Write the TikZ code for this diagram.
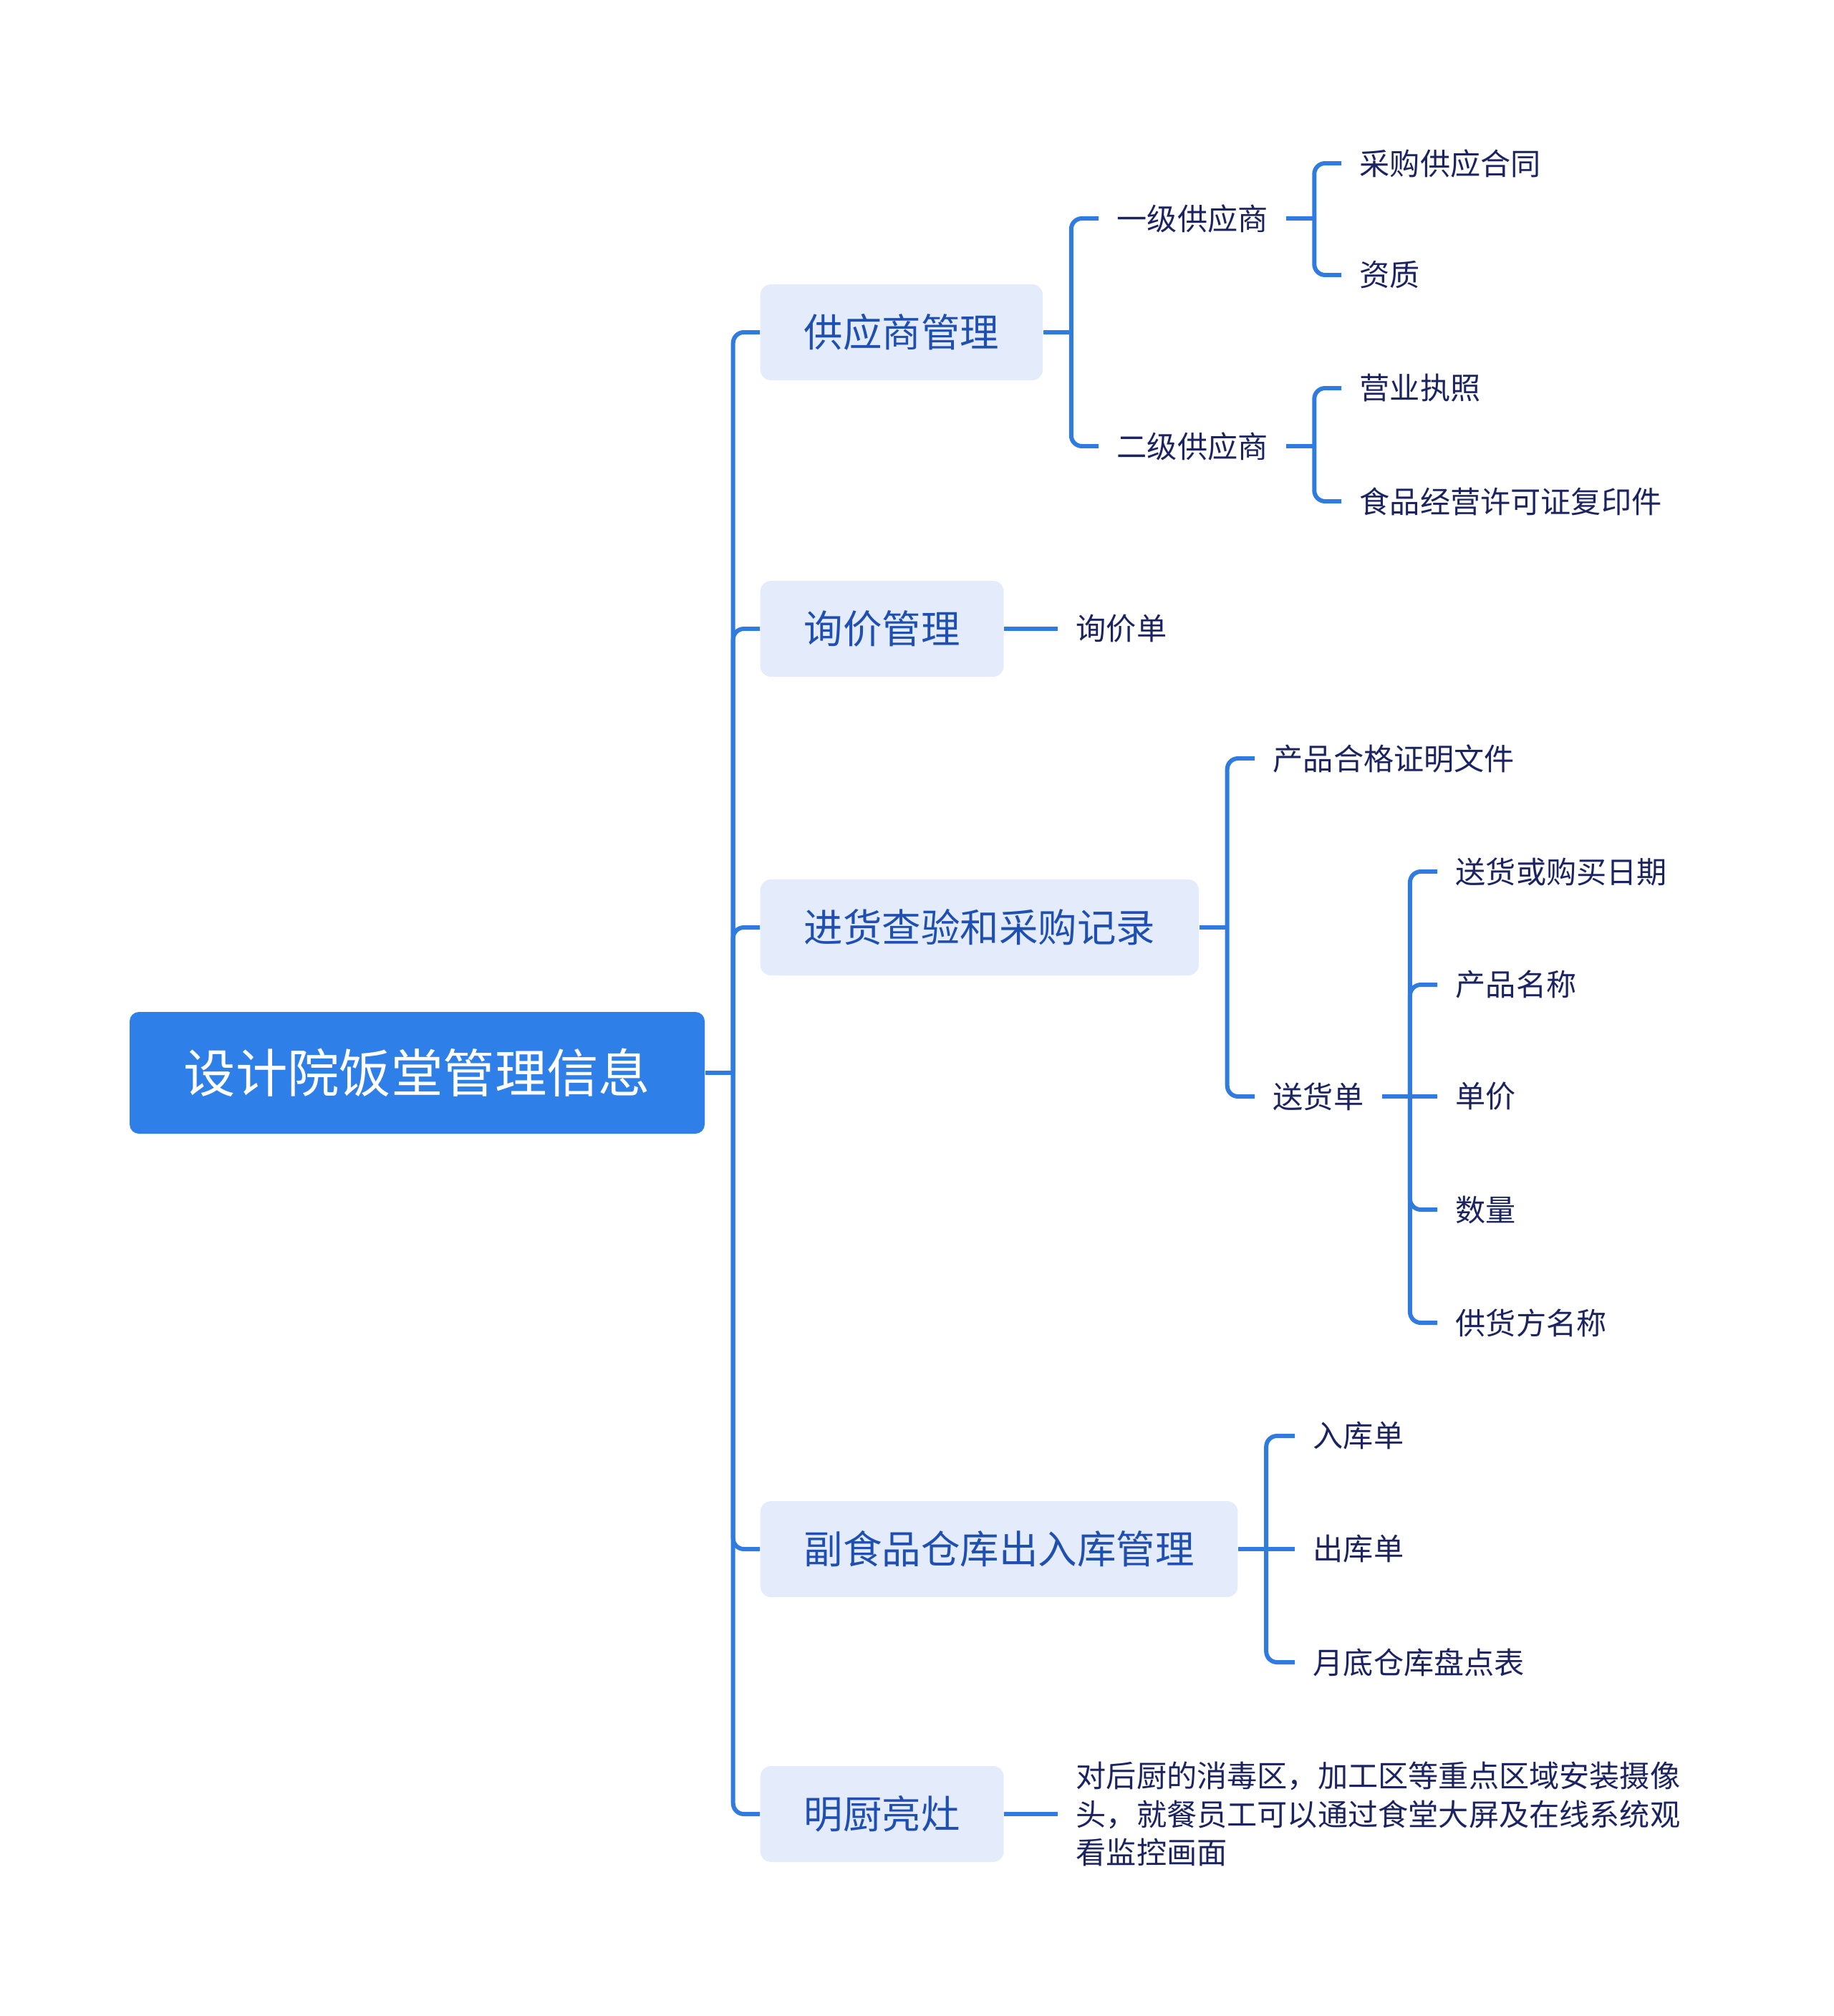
\documentclass[tikz,border=0pt]{standalone}
\usepackage{fontspec}
\usepackage{xcolor}
\usepackage{tikz}
\newfontfamily\cjk{Noto Sans CJK SC}
\definecolor{mapRoot}{HTML}{2F7FE8}
\definecolor{mapLine}{HTML}{2F7BE0}
\definecolor{mapTopic}{HTML}{E4ECFC}
\definecolor{mapTopicText}{HTML}{1F4FB0}
\definecolor{mapLeafText}{HTML}{1B2460}

\begin{document}
\begin{tikzpicture}[
  font=\cjk,
  rootbox/.style={rounded corners=0.13cm, fill=mapRoot, text=white,
                  minimum width=8.03cm, minimum height=1.70cm,
                  font=\cjk\fontsize{20.6pt}{24pt}\selectfont},
  topic/.style={rounded corners=0.15cm, fill=mapTopic, text=mapTopicText,
                inner xsep=0.61cm, minimum height=1.34cm, anchor=west,
                font=\cjk\fontsize{15.5pt}{18pt}\selectfont},
  leaf/.style={text=mapLeafText, inner xsep=0.25cm, inner ysep=2pt,
               anchor=west, align=left,
               font=\cjk\fontsize{12pt}{15.3pt}\selectfont},
  branch/.style={draw=mapLine, line width=1.7pt, rounded corners=0.15cm}
]
\useasboundingbox (0,0) rectangle (25.6,-28.15);

\node[rootbox] (main) at (5.825,-14.98) {设计院饭堂管理信息};

\node[topic] (sup) at (10.61,-4.64)  {供应商管理};
\node[topic] (inq) at (10.61,-8.78)  {询价管理};
\node[topic] (chk) at (10.61,-12.95) {进货查验和采购记录};
\node[topic] (wh)  at (10.61,-21.63) {副食品仓库出入库管理};
\node[topic] (kit) at (10.61,-25.33) {明厨亮灶};

% supplier
\node[leaf] (s1)  at (15.34,-3.05) {一级供应商};
\node[leaf] (s2)  at (15.34,-6.23) {二级供应商};
\node[leaf] (s11) at (18.73,-2.28) {采购供应合同};
\node[leaf] (s12) at (18.73,-3.84) {资质};
\node[leaf] (s21) at (18.73,-5.42) {营业执照};
\node[leaf] (s22) at (18.73,-7.00) {食品经营许可证复印件};

% inquiry
\node[leaf] (q1) at (14.77,-8.78) {询价单};

% inspection
\node[leaf] (c1) at (17.52,-10.59) {产品合格证明文件};
\node[leaf] (c2) at (17.52,-15.31) {送货单};
\node[leaf] (d1) at (20.07,-12.17) {送货或购买日期};
\node[leaf] (d2) at (20.07,-13.75) {产品名称};
\node[leaf] (d3) at (20.07,-15.31) {单价};
\node[leaf] (d4) at (20.07,-16.89) {数量};
\node[leaf] (d5) at (20.07,-18.47) {供货方名称};

% warehouse
\node[leaf] (w1) at (18.08,-20.05) {入库单};
\node[leaf] (w2) at (18.08,-21.63) {出库单};
\node[leaf] (w3) at (18.08,-23.21) {月底仓库盘点表};

% kitchen
\node[leaf] (k1) at (14.77,-25.33) {对后厨的消毒区，加工区等重点区域安装摄像\\
  头，就餐员工可以通过食堂大屏及在线系统观\\
  看监控画面};

\draw[branch] (main.east) -- ++(0.39,0) coordinate (jmain);
\foreach \c in {sup, inq, chk, wh, kit}
  \draw[branch] (jmain) |- (\c.west);

\draw[branch] (sup.east) -- ++(0.39,0) coordinate (jsup);
\foreach \c in {s1, s2}
  \draw[branch] (jsup) |- (\c.west);
\draw[branch] (s1.east) -- ++(0.39,0) coordinate (js1);
\foreach \c in {s11, s12}
  \draw[branch] (js1) |- (\c.west);
\draw[branch] (s2.east) -- ++(0.39,0) coordinate (js2);
\foreach \c in {s21, s22}
  \draw[branch] (js2) |- (\c.west);

\draw[branch] (inq.east) -- (q1.west);

\draw[branch] (chk.east) -- ++(0.39,0) coordinate (jchk);
\foreach \c in {c1, c2}
  \draw[branch] (jchk) |- (\c.west);
\draw[branch] (c2.east) -- ++(0.39,0) coordinate (jc2);
\foreach \c in {d1, d2, d4, d5}
  \draw[branch] (jc2) |- (\c.west);
\draw[branch] (jc2) -- (d3.west);

\draw[branch] (wh.east) -- ++(0.39,0) coordinate (jwh);
\foreach \c in {w1, w3}
  \draw[branch] (jwh) |- (\c.west);
\draw[branch] (jwh) -- (w2.west);

\draw[branch] (kit.east) -- (k1.west);

\end{tikzpicture}
\end{document}
